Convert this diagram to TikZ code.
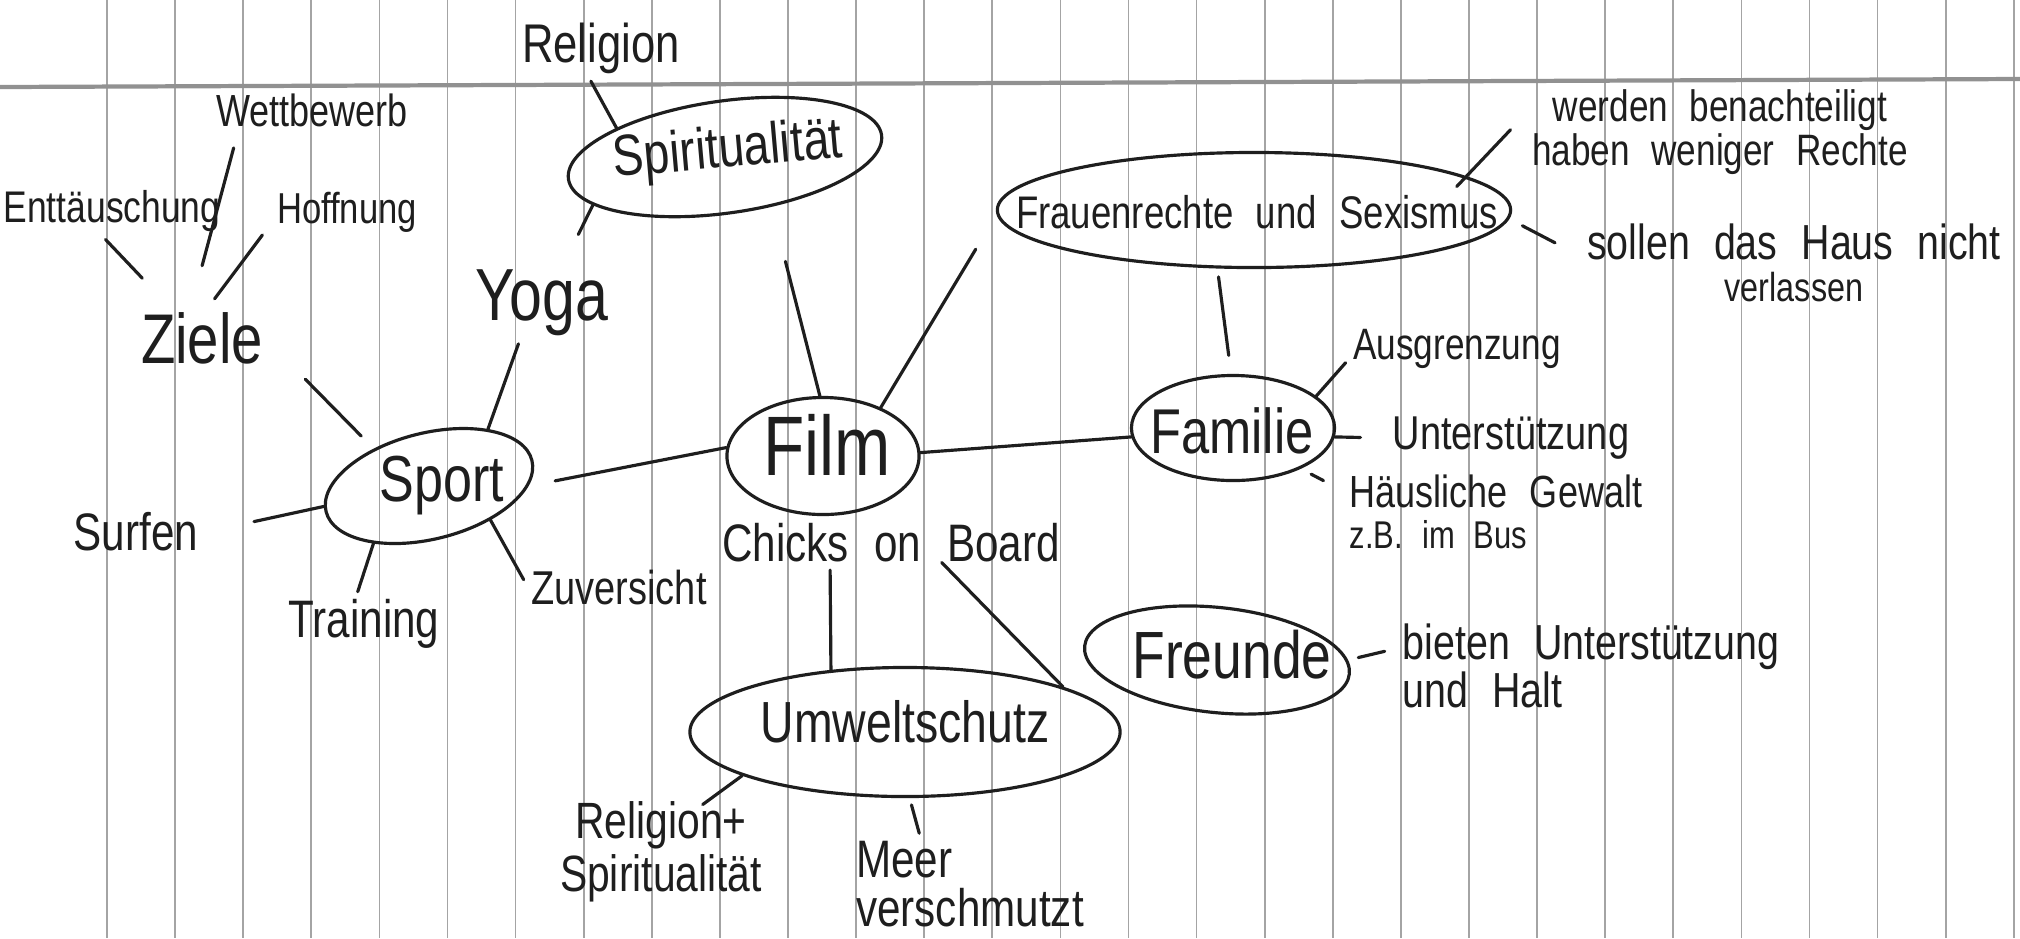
\documentclass[tikz,border=0pt]{standalone}
\usepackage{fontspec}
\newfontfamily\hand[FakeStretch=0.8,WordSpace=2.2]{Liberation Sans}
\newcommand\hsz[2]{\hand\fontsize{#1}{#2}\selectfont}
\usetikzlibrary{shapes.geometric}
\definecolor{ink}{HTML}{1E1E1E}
\definecolor{paperline}{HTML}{A4A4A4}
\definecolor{topline}{HTML}{919191}

\begin{document}
\lineskiplimit=-\maxdimen
\begin{tikzpicture}[x=0.01cm, y=-0.01cm,
    word/.style={inner sep=2pt, text=ink},
    bubble/.style={draw=ink, ellipse, line width=0.9pt, inner sep=0pt},
    link/.style={draw=ink, line width=0.9pt, line cap=round},
    ruling/.style={draw=paperline, line width=0.5pt}]
  \fill[white] (0,0) rectangle (2020,938);
  \useasboundingbox (0,0) rectangle (2020,938);
  \foreach \k in {0,...,28}{
    \draw[ruling] ({107+68.1*\k},0) -- ({107+68.1*\k},938);
  }
  \draw[draw=topline, line width=1.2pt] (0,87) -- (2020,79);

  \node[word, font=\hsz{15.5}{18}] (religion) at (601,48) {Religion};
  \node[word, font=\hsz{12.8}{15}] (wett) at (312,110) {Wettbewerb};
  \node[word, font=\hsz{12.6}{15}] (entt) at (112,211) {Enttäuschung};
  \node[word, font=\hsz{12.3}{15}] (hoff) at (347,212) {Hoffnung};
  \node[word, font=\hsz{20}{24}] (ziele) at (202,338) {Ziele};
  \node[word, font=\hsz{21}{24}] (yoga) at (542,303) {Yoga};

  \node[bubble, minimum width=3.16cm, minimum height=1.12cm, rotate=8] (spirit) at (725,157) {};
  \node[word, font=\hsz{16.5}{20}, rotate=5] (spirittxt) at (728,152) {Spiritualität};

  \node[bubble, minimum width=5.13cm, minimum height=1.15cm] (frauen) at (1254,210) {};
  \node[word, font=\hsz{13}{16}] (frauentxt) at (1257,212) {Frauenrechte und Sexismus};
  \node[word, font=\hsz{12.5}{12.5}, align=center] (benacht) at (1720,132) {werden benachteiligt\\haben weniger Rechte};
  \node[word, font=\hsz{14}{12}, align=center] (sollen) at (1794,263) {sollen das Haus nicht\\{\hsz{11.5}{12}verlassen}};

  \node[bubble, minimum width=2.03cm, minimum height=1.05cm] (familie) at (1233,428) {};
  \node[word, font=\hsz{18}{22}] (familietxt) at (1232,431) {Familie};
  \node[word, font=\hsz{12.5}{15}] (ausgr) at (1457,349) {Ausgrenzung};
  \node[word, font=\hsz{13.5}{16}] (unterst) at (1511,438) {Unterstützung};
  \node[word, font=\hsz{12.8}{11.5}, align=left] (haeusl) at (1496,512) {Häusliche Gewalt\\{\hsz{11}{11.5}z.B. im Bus}};

  \node[bubble, minimum width=1.92cm, minimum height=1.17cm] (film) at (823,456) {};
  \node[word, font=\hsz{24}{28}] (filmtxt) at (827,445) {Film};
  \node[word, font=\hsz{15}{18}] (chicks) at (891,543) {Chicks on Board};

  \node[bubble, minimum width=2.12cm, minimum height=1.06cm, rotate=14] (sport) at (429,486) {};
  \node[word, font=\hsz{18.5}{22}] (sporttxt) at (442,486) {Sport};
  \node[word, font=\hsz{15}{18}] (surfen) at (136,532) {Surfen};
  \node[word, font=\hsz{15}{18}] (training) at (364,624) {Training};
  \node[word, font=\hsz{13.5}{16}] (zuversicht) at (619,588) {Zuversicht};

  \node[bubble, minimum width=2.66cm, minimum height=1.05cm, rotate=-6] (freunde) at (1217,660) {};
  \node[word, font=\hsz{19}{23}] (freundetxt) at (1232,655) {Freunde};
  \node[word, font=\hsz{14}{13.5}, align=left] (bieten) at (1591,666) {bieten Unterstützung\\und Halt};

  \node[bubble, minimum width=4.30cm, minimum height=1.29cm] (umwelt) at (905,732) {};
  \node[word, font=\hsz{16.5}{20}] (umwelttxt) at (905,722) {Umweltschutz};
  \node[word, font=\hsz{14.5}{15}, align=center] (relspir) at (661,852) {Religion+\\Spiritualität};
  \node[word, font=\hsz{15}{14}, align=left] (meer) at (970,884) {Meer\\verschmutzt};

  \draw[link] (religion.253) -- (spirit.157);
  \draw[link, shorten >=8.8pt] (spirit.192) -- (yoga.61);
  \draw[link, shorten <=4pt, shorten >=11.4pt] (wett.198) -- (ziele.107);
  \draw[link, shorten >=10.3pt] (entt.257) -- (ziele.136);
  \draw[link, shorten <=3.3pt, shorten >=2pt] (hoff.190) -- (ziele.76);
  \draw[link, shorten <=14pt, shorten >=5pt] (ziele.-5) -- (sport.132);
  \draw[link] (yoga.240) -- (sport.30);
  \draw[link, shorten <=14pt] (surfen.east) -- (sport.177);
  \draw[link] (sport.212) -- (training.101);
  \draw[link] (sport.-43) -- (zuversicht.175);
  \draw[link, shorten <=7.7pt] (sport.-14) -- (film.175);
  \draw[link, shorten <=16pt] (spirit.305) -- (film.93);
  \draw[link, shorten >=11.5pt] (film.40) -- (frauen.181);
  \draw[link] (film.2) -- (familie.185);
  \draw[link, shorten <=2.4pt, shorten >=5.3pt] (frauen.238) -- (familie.92);
  \draw[link] (familie.21) -- (ausgr.187);
  \draw[link, shorten >=7pt] (familie.-5) -- (unterst.west);
  \draw[link, shorten <=3.3pt, shorten >=6pt] (familie.-31) -- (haeusl.172);
  \draw[link, shorten <=-4pt, shorten >=5.8pt] (frauen.9) -- (benacht.175);
  \draw[link, shorten <=4.2pt, shorten >=7.8pt] (frauen.-2) -- (sollen.178);
  \draw[link] (chicks.204) -- (umwelt.140);
  \draw[link, shorten <=-3pt] (chicks.-25) -- (umwelt.16);
  \draw[link, shorten >=-5pt] (umwelt.195) -- (relspir.46);
  \draw[link, shorten <=2pt] (umwelt.-86) -- (meer.135);
  \draw[link, shorten <=3pt, shorten >=3pt] (freunde.6) -- (bieten.175);
\end{tikzpicture}
\end{document}
